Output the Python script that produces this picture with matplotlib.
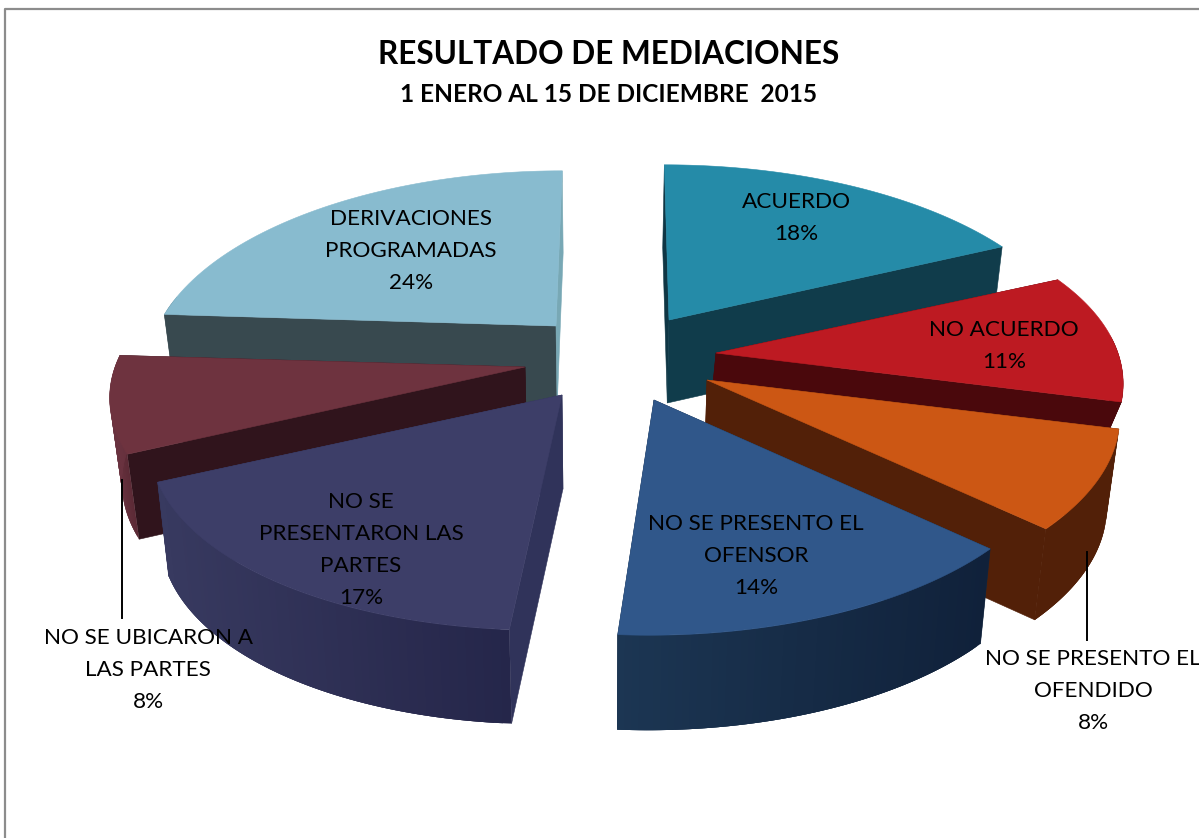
import numpy as np
import matplotlib
matplotlib.use("Agg")
import matplotlib.pyplot as plt
from matplotlib.patches import Polygon

plt.rcParams['font.family'] = ['Lato', 'DejaVu Sans']

# chart values, clockwise from 12 o'clock
labels = ["ACUERDO", "NO ACUERDO", "NO SE PRESENTO EL\nOFENDIDO", "NO SE PRESENTO EL\nOFENSOR",
          "NO SE\nPRESENTARON LAS\nPARTES", "NO SE UBICARON A\nLAS PARTES", "DERIVACIONES\nPROGRAMADAS"]
values = [18, 11, 8, 14, 17, 8, 24]

# look of each slice
top_colors = ['#258ba8', '#bd1a22', '#cc5714', '#30578a', '#3d3e68', '#6e333f', '#88bbcf']
start_colors = ['#0f3644', '#4a080c', '#522008', '#16293f', '#30335a', '#30141c', '#38494f']
end_colors = ['#103c4b', '#4a080c', '#522008', '#16293f', '#30335a', '#30141c', '#78a8b5']
outer_left = ['#103c4b', '#4a080c', '#522008', '#1c3653', '#383a60', '#6a3340', '#38494f']
outer_right = ['#103c4b', '#4a080c', '#522008', '#10213a', '#25264a', '#5c2a36', '#38494f']

# where each exploded slice sits, in pixels
apex_x = [669, 716, 707, 654, 562, 525, 556]
apex_y = [320, 353, 380, 400, 395, 367, 326]
radius_x = [403, 402, 405, 400, 400, 410, 398]
shear = [0.03, -0.1, -0.03, -0.02, -0.09, 0.1, -0.04]
depth = [83, 30, 91, 95, 94, 85, 82]
label_x = [796, 1004, 1093, 756, 361, 148, 411]
label_y = [217, 345, 690, 555, 549, 669, 250]

draw_order = [6, 0, 1, 5, 2, 4, 3]
radius_y = 187
persp = 0.205
vanish_x = 600

fig = plt.figure(figsize=(11.99, 8.38), dpi=100)
ax = fig.add_axes([0, 0, 1, 1])
ax.set_xlim(0, 1199)
ax.set_ylim(838, 0)
ax.axis('off')

# chart frame, only left and top show in the picture
ax.plot([5, 5, 1199], [838, 9, 9], color='#8c8c8c', lw=1.6)

# leader lines, the slices cover their upper ends
ax.plot([122, 122], [480, 618], color='black', lw=1.4)
ax.plot([1087, 1087], [552, 640], color='black', lw=1.4)


def project(i, theta, r=1.0):
    u = np.sin(theta) * r
    v = np.cos(theta) * r
    w = 1 + persp * v
    sy = -radius_y * v / w
    sx = radius_x[i] * u / w + shear[i] * sy
    return apex_x[i] + sx, apex_y[i] + sy


def drop(i, x, y):
    return vanish_x + (x - vanish_x) * 0.975, y + depth[i]


def mix(c1, c2, t):
    a = np.array(matplotlib.colors.to_rgb(c1))
    b = np.array(matplotlib.colors.to_rgb(c2))
    return a + (b - a) * t


edges = np.radians(np.cumsum([0] + values) * 3.6)

for i in draw_order:
    t0, t1 = edges[i], edges[i + 1]
    ts = np.linspace(t0, t1, 61)
    xs, ys = project(i, ts)
    bx, by = drop(i, xs, ys)
    ax_, ay_ = apex_x[i], apex_y[i]
    abx, aby = drop(i, ax_, ay_)

    # the two cut faces
    for k, c in [(0, start_colors[i]), (-1, end_colors[i])]:
        ax.add_patch(Polygon([(ax_, ay_), (xs[k], ys[k]), (bx[k], by[k]), (abx, aby)],
                             closed=True, fc=c, ec=c, lw=0.4))

    # curved rim with a stepped shade, only the part facing the viewer
    lo, hi = xs.min(), xs.max()
    for j in range(len(ts) - 1):
        if np.cos(ts[j]) > 0.1:
            continue
        n = min(j + 3, len(ts) - 1)  # overlap the next steps so no seams show
        c = mix(outer_left[i], outer_right[i], (xs[j] - lo) / max(hi - lo, 1))
        ax.add_patch(Polygon(list(zip(xs[j:n + 1], ys[j:n + 1])) + list(zip(bx[j:n + 1][::-1], by[j:n + 1][::-1])),
                             closed=True, fc=c, ec='none'))

    # top surface
    pts = [(ax_, ay_)] + list(zip(xs, ys))
    ax.add_patch(Polygon(pts, closed=True, fc=top_colors[i], ec=top_colors[i], lw=0.4))

for i in range(len(values)):
    ax.text(label_x[i], label_y[i] + 1, f"{labels[i]}\n{values[i]}%", ha='center', va='center',
            fontsize=16.2, color='black', linespacing=1.74)

ax.text(609, 55, "RESULTADO DE MEDIACIONES", ha='center', va='center', fontsize=22.7, fontweight='bold')
ax.text(609, 94, "1 ENERO AL 15 DE DICIEMBRE  2015", ha='center', va='center', fontsize=17.6, fontweight='bold')

fig.savefig("out.png", dpi=100)
